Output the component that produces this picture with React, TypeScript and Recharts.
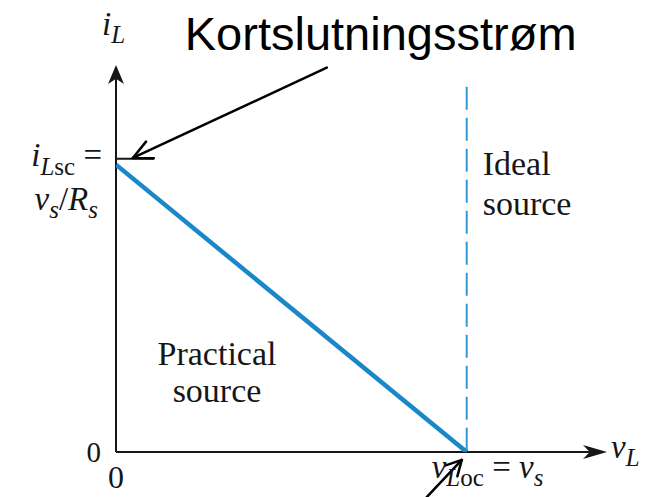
import React from 'react';
import { ComposedChart, Line, XAxis, YAxis, ReferenceLine, ReferenceDot } from 'recharts';

// Normalised units: v = vL / vs, i = iL / iLsc
const vDomain = [0, 1.4];
const iDomain = [0, 1.32];

// practical source: straight line from short circuit to open circuit
const practicalV = [0, 1];
const practicalI = [0.98, 0];

// ideal source: vertical line at v = vs
const idealV = 1;
const idealTop = 1.246;

// short-circuit tick on the i axis
const scTickV = [0, 0.108];
const scTickI = 1;

// callout arrows (tail, tip)
const calloutV = [0.601, 0.048];
const calloutI = [1.311, 1.003];
const vocArrowV = [0.886, 0.986];
const vocArrowI = [-0.154, -0.027];

const titleText = 'Kortslutningsstrøm';
const practicalLabel = ['Practical', 'source'];
const idealLabel = ['Ideal', 'source'];
const zeroLabel = '0';

const practicalData = practicalV.map((v, k) => ({ v, i: practicalI[k] }));

const INK = '#161616';
const SERIF = '"Liberation Serif", "Times New Roman", serif';
const SANS = '"Liberation Sans", Arial, sans-serif';
const MATH = 33;
const SUB = 25;

// line with a filled (notched) or open arrowhead at (x2, y2)
const Arrow = (p: any) => {
  const { x1, y1, x2, y2, color = INK, width = 2, head = 'filled', len = 20, half = 7, ang = 26 } = p;
  const a = Math.atan2(y2 - y1, x2 - x1);
  const ux = Math.cos(a);
  const uy = Math.sin(a);
  if (head === 'filled') {
    const bx = x2 - ux * len;
    const by = y2 - uy * len;
    const nx = x2 - ux * len * 0.72;
    const ny = y2 - uy * len * 0.72;
    const pts = [
      [x2, y2],
      [bx - uy * half, by + ux * half],
      [nx, ny],
      [bx + uy * half, by - ux * half],
    ].map((q) => q.join(',')).join(' ');
    return (
      <g>
        <line x1={x1} y1={y1} x2={nx} y2={ny} stroke={color} strokeWidth={width} />
        <polygon points={pts} fill={color} />
      </g>
    );
  }
  const r = (ang * Math.PI) / 180;
  const w1 = [x2 - len * Math.cos(a - r), y2 - len * Math.sin(a - r)];
  const w2 = [x2 - len * Math.cos(a + r), y2 - len * Math.sin(a + r)];
  return (
    <g stroke={color} strokeWidth={width} strokeLinecap="round" fill="none">
      <line x1={x1} y1={y1} x2={x2} y2={y2} />
      <polyline points={`${w1.join(',')} ${x2},${y2} ${w2.join(',')}`} strokeLinejoin="round" />
    </g>
  );
};

const it = { fontStyle: 'italic' as const };

export default function App() {
  return (
    <div style={{ position: 'absolute', left: 0, top: 0, width: 656, height: 497, background: '#fff' }}>
      <ComposedChart
        width={656}
        height={497}
        data={practicalData}
        margin={{ top: 65, right: 49, bottom: 45, left: 116 }}
      >
        <XAxis type="number" dataKey="v" domain={vDomain} allowDataOverflow hide />
        <YAxis type="number" domain={iDomain} allowDataOverflow hide />

        {/* axes */}
        <ReferenceLine
          segment={[{ x: 0, y: 0 }, { x: 0, y: iDomain[1] }]}
          ifOverflow="visible"
          shape={(p: any) => <Arrow {...p} head="filled" len={19} half={8} width={2} />}
        />
        <ReferenceLine
          segment={[{ x: 0, y: 0 }, { x: vDomain[1], y: 0 }]}
          ifOverflow="visible"
          shape={(p: any) => <Arrow {...p} head="filled" len={24} half={7} width={2} />}
        />

        {/* short-circuit tick */}
        <ReferenceLine
          segment={[{ x: scTickV[0], y: scTickI }, { x: scTickV[1], y: scTickI }]}
          ifOverflow="visible"
          stroke={INK}
          strokeWidth={2}
        />

        {/* ideal source */}
        <ReferenceLine
          segment={[{ x: idealV, y: idealTop }, { x: idealV, y: 0 }]}
          ifOverflow="visible"
          stroke="#2f9ad6"
          strokeWidth={2}
          strokeDasharray="23 8"
        />

        {/* practical source */}
        <Line
          type="linear"
          dataKey="i"
          stroke="#1a87c9"
          strokeWidth={4.5}
          dot={false}
          activeDot={false}
          isAnimationActive={false}
        />

        {/* callout arrows */}
        <ReferenceLine
          segment={[{ x: calloutV[0], y: calloutI[0] }, { x: calloutV[1], y: calloutI[1] }]}
          ifOverflow="visible"
          shape={(p: any) => <Arrow {...p} head="open" len={21} ang={26} width={2.5} color="#000" />}
        />
        <ReferenceLine
          segment={[{ x: vocArrowV[0], y: vocArrowI[0] }, { x: vocArrowV[1], y: vocArrowI[1] }]}
          ifOverflow="visible"
          shape={(p: any) => <Arrow {...p} head="open" len={17} ang={28} width={2.5} color="#000" />}
        />

        {/* title of the callout */}
        <ReferenceDot
          x={calloutV[0]}
          y={calloutI[0]}
          ifOverflow="visible"
          shape={(p: any) => (
            <text x={p.cx - 142} y={p.cy - 18} fontFamily={SANS} fontSize={47} fill="#000">
              {titleText}
            </text>
          )}
        />

        {/* i_L axis label */}
        <ReferenceDot
          x={0}
          y={iDomain[1]}
          ifOverflow="visible"
          shape={(p: any) => (
            <text x={p.cx - 14} y={p.cy - 30} fontFamily={SERIF} fontSize={MATH} fill={INK}>
              <tspan {...it}>i</tspan>
              <tspan {...it} fontSize={SUB} dy={8}>L</tspan>
            </text>
          )}
        />

        {/* i_Lsc = vs/Rs */}
        <ReferenceDot
          x={0}
          y={scTickI}
          ifOverflow="visible"
          shape={(p: any) => (
            <g fontFamily={SERIF} fontSize={MATH} fill={INK}>
              <text x={p.cx - 14} y={p.cy + 7} textAnchor="end">
                <tspan {...it}>i</tspan>
                <tspan {...it} fontSize={SUB} dy={9}>L</tspan>
                <tspan fontSize={SUB}>sc</tspan>
                <tspan dy={-9}> =</tspan>
              </text>
              <text x={p.cx - 18} y={p.cy + 51} textAnchor="end">
                <tspan {...it}>v</tspan>
                <tspan {...it} fontSize={SUB} dy={8}>s</tspan>
                <tspan dy={-8}>/</tspan>
                <tspan {...it}>R</tspan>
                <tspan {...it} fontSize={SUB} dy={8}>s</tspan>
              </text>
            </g>
          )}
        />

        {/* origin zeros, practical source label */}
        <ReferenceDot
          x={0}
          y={0}
          ifOverflow="visible"
          shape={(p: any) => (
            <g fontFamily={SERIF} fill={INK}>
              <text x={p.cx - 15} y={p.cy + 10} textAnchor="end" fontSize={29}>{zeroLabel}</text>
              <text x={p.cx} y={p.cy + 36} textAnchor="middle" fontSize={32}>{zeroLabel}</text>
              <text x={p.cx + 101} y={p.cy - 87} textAnchor="middle" fontSize={34}>{practicalLabel[0]}</text>
              <text x={p.cx + 101} y={p.cy - 50} textAnchor="middle" fontSize={34}>{practicalLabel[1]}</text>
            </g>
          )}
        />
        <ReferenceDot
          x={idealV}
          y={0}
          ifOverflow="visible"
          shape={(p: any) => (
            <text x={p.cx - 35} y={p.cy + 26} fontFamily={SERIF} fontSize={MATH} fill={INK}>
              <tspan {...it}>v</tspan>
              <tspan {...it} fontSize={SUB} dy={8}>L</tspan>
              <tspan fontSize={SUB}>oc</tspan>
              <tspan dy={-8}> = </tspan>
              <tspan {...it}>v</tspan>
              <tspan {...it} fontSize={SUB} dy={8}>s</tspan>
            </text>
          )}
        />
        <ReferenceDot
          x={vDomain[1]}
          y={0}
          ifOverflow="visible"
          shape={(p: any) => (
            <text x={p.cx + 4} y={p.cy + 6} fontFamily={SERIF} fontSize={MATH} fill={INK}>
              <tspan {...it}>v</tspan>
              <tspan {...it} fontSize={SUB} dy={8}>L</tspan>
            </text>
          )}
        />
        <ReferenceDot
          x={idealV}
          y={scTickI}
          ifOverflow="visible"
          shape={(p: any) => (
            <g fontFamily={SERIF} fontSize={34} fill={INK}>
              <text x={p.cx + 16} y={p.cy + 16}>{idealLabel[0]}</text>
              <text x={p.cx + 16} y={p.cy + 56}>{idealLabel[1]}</text>
            </g>
          )}
        />
      </ComposedChart>
    </div>
  );
}
